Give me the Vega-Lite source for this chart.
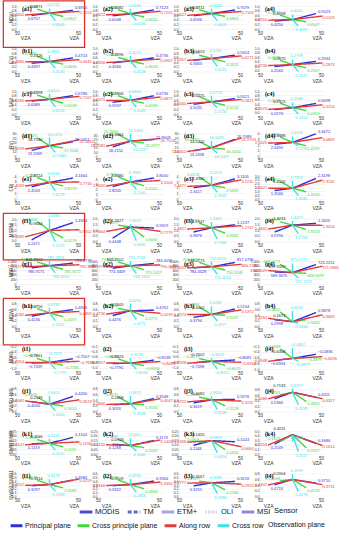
{
  "$schema": "https://vega.github.io/schema/vega-lite/v6.json",
  "background": "white",
  "padding": {"left": 2, "top": 0, "right": 2, "bottom": 2},
  "bounds": "flush",
  "datasets": {
    "panels": [
      {"p":"a1","n":0.6871,"z0":0,"z1":1,"name":"NDVI"},
      {"p":"a2","n":0.6582,"z0":0,"z1":1,"name":"NDVI"},
      {"p":"a3","n":0.6711,"z0":0,"z1":1,"name":"NDVI"},
      {"p":"a4","n":0.4098,"z0":0,"z1":1,"name":"NDVI"},
      {"p":"b1","n":0.4326,"z0":0,"z1":1,"name":"EVI"},
      {"p":"b2","n":0.4596,"z0":0,"z1":1,"name":"EVI"},
      {"p":"b3","n":0.5653,"z0":0,"z1":1,"name":"EVI"},
      {"p":"b4","n":0.2670,"z0":0,"z1":1,"name":"EVI"},
      {"p":"c1","n":0.6398,"z0":0,"z1":1,"name":"SAVI"},
      {"p":"c2","n":0.5966,"z0":0,"z1":1,"name":"SAVI"},
      {"p":"c3","n":0.5275,"z0":0,"z1":1,"name":"SAVI"},
      {"p":"c4","n":0.2323,"z0":0,"z1":1,"name":"SAVI"},
      {"p":"d1","n":16.7130,"z0":5,"z1":30,"name":"RVI"},
      {"p":"d2","n":22.8864,"z0":5,"z1":30,"name":"RVI"},
      {"p":"d3","n":14.5220,"z0":5,"z1":30,"name":"RVI"},
      {"p":"d4","n":2.4488,"z0":0,"z1":4,"name":"RVI"},
      {"p":"e1","n":2.8724,"z0":0,"z1":4,"name":"CRI"},
      {"p":"e2","n":3.4480,"z0":0,"z1":4,"name":"CRI"},
      {"p":"e3","n":2.4500,"z0":0,"z1":4,"name":"CRI"},
      {"p":"e4","n":1.4020,"z0":0,"z1":3,"name":"CRI"},
      {"p":"f1","n":0.9644,"z0":0,"z1":2,"name":"MSRNI"},
      {"p":"f2","n":1.2627,"z0":0,"z1":2,"name":"MSRNI"},
      {"p":"f3","n":1.1947,"z0":0,"z1":2,"name":"MSRNI"},
      {"p":"f4","n":1.4233,"z0":0,"z1":2,"name":"MSRNI"},
      {"p":"g1","n":801.2152,"z0":0,"z1":1000,"name":"NBR"},
      {"p":"g2","n":802.2102,"z0":0,"z1":1000,"name":"NBR"},
      {"p":"g3","n":748.0773,"z0":0,"z1":1000,"name":"NBR"},
      {"p":"g4","n":497.5559,"z0":0,"z1":1000,"name":"NBR"},
      {"p":"h1","n":0.4756,"z0":0,"z1":0.8,"name":"NDWI"},
      {"p":"h2","n":0.5505,"z0":0,"z1":0.8,"name":"NDWI"},
      {"p":"h3","n":0.4202,"z0":0,"z1":0.8,"name":"NDWI"},
      {"p":"h4","n":0.1673,"z0":0,"z1":0.8,"name":"NDWI"},
      {"p":"i1","n":-0.7861,"z0":-1,"z1":-0.2,"name":"NDMI"},
      {"p":"i2","n":-0.8323,"z0":-1,"z1":-0.2,"name":"NDMI"},
      {"p":"i3","n":-0.7602,"z0":-1,"z1":-0.2,"name":"NDMI"},
      {"p":"i4","n":-0.6308,"z0":-1,"z1":-0.2,"name":"NDMI"},
      {"p":"j1","n":0.2549,"z0":0,"z1":0.8,"name":"SWIR1-NIR"},
      {"p":"j2","n":0.2658,"z0":0,"z1":0.8,"name":"SWIR1-NIR"},
      {"p":"j3","n":0.4082,"z0":0,"z1":0.8,"name":"SWIR1-NIR"},
      {"p":"j4","n":0.7133,"z0":0,"z1":0.8,"name":"SWIR1-NIR"},
      {"p":"k1","n":0.1166,"z0":0,"z1":0.25,"name":"SWIR2-NIR"},
      {"p":"k2","n":0.0918,"z0":0,"z1":0.25,"name":"SWIR2-NIR"},
      {"p":"k3","n":0.1455,"z0":0,"z1":0.25,"name":"SWIR2-NIR"},
      {"p":"k4","n":0.4211,"z0":0,"z1":0.5,"name":"SWIR2-NIR"},
      {"p":"l1","n":0.3114,"z0":0,"z1":0.6,"name":"SWIR2/SWIR1"},
      {"p":"l2","n":0.3109,"z0":0,"z1":0.6,"name":"SWIR2/SWIR1"},
      {"p":"l3","n":0.3567,"z0":0,"z1":0.6,"name":"SWIR2/SWIR1"},
      {"p":"l4","n":0.5904,"z0":0,"z1":0.8,"name":"SWIR2/SWIR1"}
    ],
    "planes": [
      {"p":"a1","pl":"P","l":0.6757,"r":0.6950},{"p":"a1","pl":"C","l":0.6862,"r":0.6847},{"p":"a1","pl":"A","l":0.6605,"r":0.7153},{"p":"a1","pl":"X","l":0.6731,"r":0.6645},
      {"p":"a2","pl":"P","l":0.6548,"r":0.7123},{"p":"a2","pl":"C","l":0.6585,"r":0.6616},{"p":"a2","pl":"A","l":0.6672,"r":0.7205},{"p":"a2","pl":"X","l":0.6596,"r":0.6736},
      {"p":"a3","pl":"P","l":0.6596,"r":0.7079},{"p":"a3","pl":"C","l":0.6602,"r":0.6863},{"p":"a3","pl":"A","l":0.6427,"r":0.7109},{"p":"a3","pl":"X","l":0.6632,"r":0.6605},
      {"p":"a4","pl":"P","l":0.4250,"r":0.5523},{"p":"a4","pl":"C","l":0.4257,"r":0.4547},{"p":"a4","pl":"A","l":0.4350,"r":0.5109},{"p":"a4","pl":"X","l":0.4201,"r":0.4257},
      {"p":"b1","pl":"P","l":0.4397,"r":0.4724},{"p":"b1","pl":"C","l":0.4881,"r":0.4630},{"p":"b1","pl":"A","l":0.4685,"r":0.4645},{"p":"b1","pl":"X","l":0.4861,"r":0.4520},
      {"p":"b2","pl":"P","l":0.4566,"r":0.4736},{"p":"b2","pl":"C","l":0.4372,"r":0.4628},{"p":"b2","pl":"A","l":0.4356,"r":0.4907},{"p":"b2","pl":"X","l":0.4573,"r":0.4528},
      {"p":"b3","pl":"P","l":0.5663,"r":0.5924},{"p":"b3","pl":"C","l":0.5268,"r":0.5624},{"p":"b3","pl":"A","l":0.5307,"r":0.6271},{"p":"b3","pl":"X","l":0.5262,"r":0.5224},
      {"p":"b4","pl":"P","l":0.2563,"r":0.2944},{"p":"b4","pl":"C","l":0.2768,"r":0.2597},{"p":"b4","pl":"A","l":0.2736,"r":0.2873},{"p":"b4","pl":"X","l":0.2798,"r":0.2527},
      {"p":"c1","pl":"P","l":0.6389,"r":0.6786},{"p":"c1","pl":"C","l":0.6507,"r":0.6128},{"p":"c1","pl":"A","l":0.6185,"r":0.7167},{"p":"c1","pl":"X","l":0.6501,"r":0.6126},
      {"p":"c2","pl":"P","l":0.5937,"r":0.6736},{"p":"c2","pl":"C","l":0.6181,"r":0.6136},{"p":"c2","pl":"A","l":0.6375,"r":0.6877},{"p":"c2","pl":"X","l":0.6163,"r":0.6049},
      {"p":"c3","pl":"P","l":0.5035,"r":0.5521},{"p":"c3","pl":"C","l":0.5774,"r":0.5134},{"p":"c3","pl":"A","l":0.5060,"r":0.5821},{"p":"c3","pl":"X","l":0.5774,"r":0.5734},
      {"p":"c4","pl":"P","l":0.2274,"r":0.3098},{"p":"c4","pl":"C","l":0.2588,"r":0.2453},{"p":"c4","pl":"A","l":0.2073,"r":0.3150},{"p":"c4","pl":"X","l":0.2588,"r":0.2450},
      {"p":"d1","pl":"P","l":13.5969,"r":18.0451},{"p":"d1","pl":"C","l":20.9170,"r":17.9082},{"p":"d1","pl":"A","l":14.4209,"r":22.0661},{"p":"d1","pl":"X","l":20.0170,"r":17.0062},
      {"p":"d2","pl":"P","l":18.2152,"r":21.8008},{"p":"d2","pl":"C","l":26.3466,"r":24.2377},{"p":"d2","pl":"A","l":18.2581,"r":24.7524},{"p":"d2","pl":"X","l":26.3464,"r":24.2217},
      {"p":"d3","pl":"P","l":13.2458,"r":20.7089},{"p":"d3","pl":"C","l":16.6655,"r":16.3264},{"p":"d3","pl":"A","l":11.6652,"r":23.9793},{"p":"d3","pl":"X","l":16.6095,"r":16.1307},
      {"p":"d4","pl":"P","l":2.4490,"r":3.4672},{"p":"d4","pl":"C","l":2.6786,"r":2.4299},{"p":"d4","pl":"A","l":2.5425,"r":3.0869},{"p":"d4","pl":"X","l":2.6196,"r":3.1296},
      {"p":"e1","pl":"P","l":2.4563,"r":3.1664},{"p":"e1","pl":"C","l":3.0160,"r":2.8279},{"p":"e1","pl":"A","l":2.4583,"r":2.7716},{"p":"e1","pl":"X","l":3.0160,"r":2.6279},
      {"p":"e2","pl":"P","l":2.8200,"r":3.8000},{"p":"e2","pl":"C","l":3.7880,"r":3.2500},{"p":"e2","pl":"A","l":2.8000,"r":3.5500},{"p":"e2","pl":"X","l":3.7880,"r":3.1500},
      {"p":"e3","pl":"P","l":2.3417,"r":3.1105},{"p":"e3","pl":"C","l":3.2274,"r":2.5689},{"p":"e3","pl":"A","l":2.4477,"r":3.2211},{"p":"e3","pl":"X","l":3.2274,"r":2.3962},
      {"p":"e4","pl":"P","l":1.3566,"r":2.3198},{"p":"e4","pl":"C","l":1.7352,"r":1.3599},{"p":"e4","pl":"A","l":1.5627,"r":2.3110},{"p":"e4","pl":"X","l":1.7352,"r":1.3582},
      {"p":"f1","pl":"P","l":0.2471,"r":1.4584},{"p":"f1","pl":"C","l":1.4466,"r":0.5279},{"p":"f1","pl":"A","l":0.4581,"r":0.9352},{"p":"f1","pl":"X","l":1.6486,"r":0.5279},
      {"p":"f2","pl":"P","l":0.4448,"r":0.9319},{"p":"f2","pl":"C","l":1.0619,"r":0.6669},{"p":"f2","pl":"A","l":0.9664,"r":0.7779},{"p":"f2","pl":"X","l":1.0619,"r":0.6660},
      {"p":"f3","pl":"P","l":0.9876,"r":1.2137},{"p":"f3","pl":"C","l":1.2461,"r":0.9982},{"p":"f3","pl":"A","l":1.1827,"r":1.2747},{"p":"f3","pl":"X","l":1.2461,"r":0.7966},
      {"p":"f4","pl":"P","l":0.9790,"r":1.3425},{"p":"f4","pl":"C","l":1.3477,"r":1.3253},{"p":"f4","pl":"A","l":1.1802,"r":1.3054},{"p":"f4","pl":"X","l":1.3477,"r":1.2763},
      {"p":"g1","pl":"P","l":786.9171,"r":793.6773},{"p":"g1","pl":"C","l":781.4572,"r":785.3072},{"p":"g1","pl":"A","l":796.6771,"r":790.3606},{"p":"g1","pl":"X","l":785.7891,"r":780.4013},
      {"p":"g2","pl":"P","l":774.3409,"r":783.0056},{"p":"g2","pl":"C","l":791.3045,"r":770.5417},{"p":"g2","pl":"A","l":798.0776,"r":790.2629},{"p":"g2","pl":"X","l":791.7136,"r":763.1432},
      {"p":"g3","pl":"P","l":784.4528,"r":817.0796},{"p":"g3","pl":"C","l":763.4877,"r":750.3346},{"p":"g3","pl":"A","l":753.8031,"r":806.2320},{"p":"g3","pl":"X","l":753.6576,"r":720.4054},
      {"p":"g4","pl":"P","l":599.3075,"r":724.2251},{"p":"g4","pl":"C","l":678.5777,"r":606.5379},{"p":"g4","pl":"A","l":634.8029,"r":721.9865},{"p":"g4","pl":"X","l":675.0777,"r":557.1710},
      {"p":"h1","pl":"P","l":0.4236,"r":0.4906},{"p":"h1","pl":"C","l":0.4792,"r":0.4497},{"p":"h1","pl":"A","l":0.4282,"r":0.4809},{"p":"h1","pl":"X","l":0.4782,"r":0.4437},
      {"p":"h2","pl":"P","l":0.4476,"r":0.4762},{"p":"h2","pl":"C","l":0.4894,"r":0.4771},{"p":"h2","pl":"A","l":0.4736,"r":0.4239},{"p":"h2","pl":"X","l":0.6294,"r":0.4771},
      {"p":"h3","pl":"P","l":0.3794,"r":0.5134},{"p":"h3","pl":"C","l":0.5286,"r":0.5037},{"p":"h3","pl":"A","l":0.4573,"r":0.5372},{"p":"h3","pl":"X","l":0.5289,"r":0.4377},
      {"p":"h4","pl":"P","l":0.2998,"r":0.3878},{"p":"h4","pl":"C","l":0.3652,"r":0.3463},{"p":"h4","pl":"A","l":0.3264,"r":0.3669},{"p":"h4","pl":"X","l":0.3633,"r":0.3464},
      {"p":"i1","pl":"P","l":-0.7439,"r":-0.7507},{"p":"i1","pl":"C","l":-0.7873,"r":-0.7786},{"p":"i1","pl":"A","l":-0.7454,"r":-0.7845},{"p":"i1","pl":"X","l":-0.7575,"r":-0.7797},
      {"p":"i2","pl":"P","l":-0.7790,"r":-0.8138},{"p":"i2","pl":"C","l":-0.8138,"r":-0.8036},{"p":"i2","pl":"A","l":-0.7817,"r":-0.8086},{"p":"i2","pl":"X","l":-0.8138,"r":-0.8036},
      {"p":"i3","pl":"P","l":-0.7498,"r":-0.8081},{"p":"i3","pl":"C","l":-0.8079,"r":-0.8021},{"p":"i3","pl":"A","l":-0.7928,"r":-0.8352},{"p":"i3","pl":"X","l":-0.8079,"r":-0.8021},
      {"p":"i4","pl":"P","l":-0.6394,"r":-0.5836},{"p":"i4","pl":"C","l":-0.4439,"r":-0.4879},{"p":"i4","pl":"A","l":-0.6948,"r":-0.6096},{"p":"i4","pl":"X","l":-0.4452,"r":-0.4879},
      {"p":"j1","pl":"P","l":0.4050,"r":0.4260},{"p":"j1","pl":"C","l":0.3605,"r":0.3053},{"p":"j1","pl":"A","l":0.4082,"r":0.3674},{"p":"j1","pl":"X","l":0.3605,"r":0.2660},
      {"p":"j2","pl":"P","l":0.3016,"r":0.3548},{"p":"j2","pl":"C","l":0.3671,"r":0.3534},{"p":"j2","pl":"A","l":0.2866,"r":0.4047},{"p":"j2","pl":"X","l":0.3671,"r":0.3034},
      {"p":"j3","pl":"P","l":0.3619,"r":0.3276},{"p":"j3","pl":"C","l":0.3586,"r":0.3128},{"p":"j3","pl":"A","l":0.3722,"r":0.3211},{"p":"j3","pl":"X","l":0.3656,"r":0.3128},
      {"p":"j4","pl":"P","l":0.5366,"r":0.4311},{"p":"j4","pl":"C","l":0.4705,"r":0.4859},{"p":"j4","pl":"A","l":0.5088,"r":0.4327},{"p":"j4","pl":"X","l":0.6757,"r":0.4935},
      {"p":"k1","pl":"P","l":0.1319,"r":0.1504},{"p":"k1","pl":"C","l":0.1118,"r":0.1125},{"p":"k1","pl":"A","l":0.1127,"r":0.1190},{"p":"k1","pl":"X","l":0.1119,"r":0.1170},
      {"p":"k2","pl":"P","l":0.1268,"r":0.1173},{"p":"k2","pl":"C","l":0.1165,"r":0.1049},{"p":"k2","pl":"A","l":0.1132,"r":0.1400},{"p":"k2","pl":"X","l":0.1165,"r":0.1069},
      {"p":"k3","pl":"P","l":0.1148,"r":0.1024},{"p":"k3","pl":"C","l":0.0809,"r":0.0834},{"p":"k3","pl":"A","l":0.1406,"r":0.0660},{"p":"k3","pl":"X","l":0.0809,"r":0.0854},
      {"p":"k4","pl":"P","l":0.2549,"r":0.1686},{"p":"k4","pl":"C","l":0.1826,"r":0.2027},{"p":"k4","pl":"A","l":0.2203,"r":0.1614},{"p":"k4","pl":"X","l":0.1625,"r":0.2027},
      {"p":"l1","pl":"P","l":0.3297,"r":0.3584},{"p":"l1","pl":"C","l":0.3179,"r":0.3086},{"p":"l1","pl":"A","l":0.3207,"r":0.4259},{"p":"l1","pl":"X","l":0.3179,"r":0.3169},
      {"p":"l2","pl":"P","l":0.3322,"r":0.3306},{"p":"l2","pl":"C","l":0.3226,"r":0.2868},{"p":"l2","pl":"A","l":0.3166,"r":0.3460},{"p":"l2","pl":"X","l":0.3226,"r":0.2863},
      {"p":"l3","pl":"P","l":0.3255,"r":0.3216},{"p":"l3","pl":"C","l":0.2929,"r":0.2580},{"p":"l3","pl":"A","l":0.3777,"r":0.2923},{"p":"l3","pl":"X","l":0.2632,"r":0.2580},
      {"p":"l4","pl":"P","l":0.4724,"r":0.3710},{"p":"l4","pl":"C","l":0.4098,"r":0.4178},{"p":"l4","pl":"A","l":0.4407,"r":0.3731},{"p":"l4","pl":"X","l":0.5999,"r":0.4178}
    ]
  },
  "data": {"name": "planes"},
  "transform": [
    {"lookup": "p", "from": {"data": {"name": "panels"}, "key": "p", "fields": ["n", "z0", "z1", "name"]}},
    {"calculate": "substring(datum.p, 1, 2)", "as": "col"},
    {"fold": ["l", "n", "r"], "as": ["end", "v"]},
    {"calculate": "datum.end=='n' ? 0 : datum.pl=='P' ? (datum.end=='l' ? -0.55 : 0.72) : datum.pl=='A' ? (datum.end=='l' ? -0.75 : 0.92) : datum.pl=='C' ? (datum.end=='l' ? -0.38 : 0.42) : (datum.end=='l' ? 0.0 : 0.18)", "as": "sx"},
    {"calculate": "datum.end=='n' ? 0 : datum.pl=='P' ? (datum.end=='l' ? -0.08 : 0.12) : datum.pl=='A' ? (datum.end=='l' ? -0.05 : 0.05) : datum.pl=='C' ? (datum.end=='l' ? 0.18 : -0.14) : (datum.end=='l' ? 0.22 : -0.3)", "as": "dz"},
    {"calculate": "datum.v + datum.dz * (datum.z1 - datum.z0)", "as": "sy"}
  ],
  "facet": {
    "row": {"field": "name", "type": "nominal", "sort": ["NDVI", "EVI", "SAVI", "RVI", "CRI", "MSRNI", "NBR", "NDWI", "NDMI", "SWIR1-NIR", "SWIR2-NIR", "SWIR2/SWIR1"],
      "header": {"title": null, "labelAngle": -90, "labelOrient": "left", "labelFontSize": 4.5, "labelPadding": 1, "labelFont": "Liberation Sans", "labelColor": "#333"}},
    "column": {"field": "col", "type": "nominal", "header": null}
  },
  "spacing": {"row": 19.5, "column": 16},
  "resolve": {"scale": {"y": "independent"}, "axis": {"x": "independent"}},
  "spec": {
    "width": 65,
    "height": 23,
    "resolve": {"scale": {"y": "independent"}},
    "layer": [
      {
        "encoding": {
          "x": {"field": "sx", "type": "quantitative", "scale": {"domain": [-1, 1]},
            "axis": {"values": [-1, -0.52, -0.18, 0.18, 0.5, 0.88],
              "labelExpr": "datum.value < -0.7 ? '50' : datum.value < -0.35 ? '0' : datum.value < 0 ? '-50' : datum.value < 0.3 ? '-50' : datum.value < 0.7 ? '0' : '50'",
              "title": "VZA\u00a0\u00a0\u00a0\u00a0\u00a0\u00a0\u00a0\u00a0\u00a0\u00a0\u00a0\u00a0\u00a0\u00a0\u00a0\u00a0\u00a0\u00a0\u00a0\u00a0\u00a0\u00a0\u00a0\u00a0\u00a0\u00a0\u00a0\u00a0VZA",
              "labelFontSize": 4.5, "titleFontSize": 5, "titleFontWeight": "normal", "ticks": false, "domain": false, "grid": false,
              "labelPadding": {"condition": [{"test": "abs(datum.value) < 0.3", "value": 6}, {"test": "abs(datum.value) < 0.6", "value": 3.5}], "value": 1},
              "titlePadding": 1, "labelFlush": false, "labelOverlap": false, "labelColor": "#333", "titleColor": "#333"}},
          "y": {"field": "sy", "type": "quantitative", "scale": {"zero": false, "nice": false},
            "axis": {"title": null, "labelFontSize": 3.5, "tickCount": 5, "ticks": false, "domain": false, "grid": true, "gridColor": "#e8e8e8", "gridWidth": 0.5, "labelPadding": 1, "labelColor": "#333"}}
        },
        "layer": [
          {
            "transform": [{"filter": "datum.pl=='P' && datum.end=='n'"}],
            "mark": {"type": "rule", "color": "#cccccc", "strokeWidth": 0.5},
            "encoding": {"x": {"datum": -1, "type": "quantitative"}, "y": {"field": "z0", "type": "quantitative"}, "y2": {"field": "z1"}}
          },
          {
            "mark": {"type": "line", "strokeWidth": 1.4},
            "encoding": {
              "color": {"field": "pl", "type": "nominal",
                "scale": {"domain": ["P", "C", "A", "X"], "range": ["#2e2ed6", "#3ed83e", "#e23b3b", "#3fe3e3"]},
                "legend": {"title": "Observation plane", "orient": "none", "legendX": -8, "legendY": 512, "labelFontSize": 7, "titleFontSize": 7, "columnPadding": 0, "symbolSize": 140, "labelExpr": "datum.label=='P' ? 'Principal plane' : datum.label=='C' ? 'Cross principle plane' : datum.label=='A' ? 'Along row' : 'Cross row'", "columns": 4}},
              "strokeDash": {"datum": "MODIS", "type": "nominal",
                "scale": {"domain": ["MODIS", "TM", "ETM+", "OLI", "MSI"], "range": [[1, 0], [4, 2], [1, 0], [1, 1.5], [1, 0]]},
                "legend": {"title": "Sensor", "orient": "none", "legendX": 61, "legendY": 498, "columns": 5, "columnPadding": 1,
                  "encode": {"symbols": {"update": {"stroke": {"signal": "datum.value=='MODIS' ? '#4848cc' : datum.value=='TM' ? '#6a6ac4' : datum.value=='ETM+' ? '#a6a6dc' : datum.value=='OLI' ? '#c0c0dc' : '#8a8ad6'"}}}}}},
              "order": {"field": "end"}
            }
          },
          {"transform": [{"filter": "datum.pl=='P' && datum.end=='l'"}], "mark": {"type": "text", "align": "left", "dx": -4, "dy": 4, "fontSize": 4}, "encoding": {"text": {"field": "v", "format": ".4f"}, "color": {"field": "pl", "type": "nominal"}}},
          {"transform": [{"filter": "datum.pl=='P' && datum.end=='r'"}], "mark": {"type": "text", "align": "left", "dx": 2, "dy": -2, "fontSize": 4}, "encoding": {"text": {"field": "v", "format": ".4f"}, "color": {"field": "pl", "type": "nominal"}}},
          {"transform": [{"filter": "datum.pl=='A' && datum.end=='l'"}], "mark": {"type": "text", "align": "right", "dx": -1, "dy": 0, "fontSize": 4}, "encoding": {"text": {"field": "v", "format": ".4f"}, "color": {"field": "pl", "type": "nominal"}}},
          {"transform": [{"filter": "datum.pl=='A' && datum.end=='r'"}], "mark": {"type": "text", "align": "left", "dx": 0, "dy": 2, "fontSize": 4}, "encoding": {"text": {"field": "v", "format": ".4f"}, "color": {"field": "pl", "type": "nominal"}}},
          {"transform": [{"filter": "datum.pl=='C' && datum.end=='l'"}], "mark": {"type": "text", "align": "right", "dx": 0, "dy": -2, "fontSize": 4}, "encoding": {"text": {"field": "v", "format": ".4f"}, "color": {"field": "pl", "type": "nominal"}}},
          {"transform": [{"filter": "datum.pl=='C' && datum.end=='r'"}], "mark": {"type": "text", "align": "left", "dx": 1, "dy": 3, "fontSize": 4}, "encoding": {"text": {"field": "v", "format": ".4f"}, "color": {"field": "pl", "type": "nominal"}}},
          {"transform": [{"filter": "datum.pl=='X' && datum.end=='l'"}], "mark": {"type": "text", "align": "left", "dx": -2, "dy": -3, "fontSize": 4}, "encoding": {"text": {"field": "v", "format": ".4f"}, "color": {"field": "pl", "type": "nominal"}}},
          {"transform": [{"filter": "datum.pl=='X' && datum.end=='r'"}], "mark": {"type": "text", "align": "left", "dx": -3, "dy": 4, "fontSize": 4}, "encoding": {"text": {"field": "v", "format": ".4f"}, "color": {"field": "pl", "type": "nominal"}}},
          {"transform": [{"filter": "datum.pl=='P' && datum.end=='n'"}], "mark": {"type": "text", "align": "right", "dx": -7, "dy": -6, "fontSize": 4, "color": "#222222"}, "encoding": {"text": {"field": "v", "format": ".4f"}}}
        ]
      },
      {
        "transform": [{"filter": "datum.pl=='P' && datum.end=='n'"}, {"calculate": "'(' + datum.p + ')'", "as": "plab"}],
        "layer": [
          {
            "transform": [{"filter": "datum.p=='a1' || datum.p=='f1' || datum.p=='h1'"}],
            "mark": {"type": "rect", "filled": false, "color": "#e0302a", "strokeWidth": 1.3},
            "encoding": {
              "x": {"datum": -1.42, "type": "quantitative"}, "x2": {"datum": 1.08},
              "y": {"datum": 1.22, "type": "quantitative", "scale": {"domain": [0, 1]}, "axis": null}, "y2": {"datum": -0.8}
            }
          },
          {
            "mark": {"type": "text", "font": "Liberation Serif", "fontWeight": "bold", "fontSize": 6, "align": "left", "baseline": "middle"},
            "encoding": {
              "x": {"datum": -0.85, "type": "quantitative"},
              "y": {"datum": 0.88, "type": "quantitative", "scale": {"domain": [0, 1]}, "axis": null},
              "text": {"field": "plab"}
            }
          }
        ]
      }
    ]
  },
  "config": {
    "view": {"stroke": null},
    "font": "Liberation Sans",
    "axis": {"labelFont": "Liberation Sans", "titleFont": "Liberation Sans"},
    "legend": {"direction": "horizontal", "gridAlign": "each", "titleOrient": "right", "labelFontSize": 7.5, "titleFontSize": 7.5, "titleFontWeight": "normal", "symbolType": "stroke", "symbolStrokeWidth": 3, "symbolSize": 160, "labelFont": "Liberation Sans", "titleFont": "Liberation Sans", "columnPadding": 2, "labelOffset": 1, "labelColor": "#111", "titleColor": "#111", "titlePadding": 4}
  }
}
